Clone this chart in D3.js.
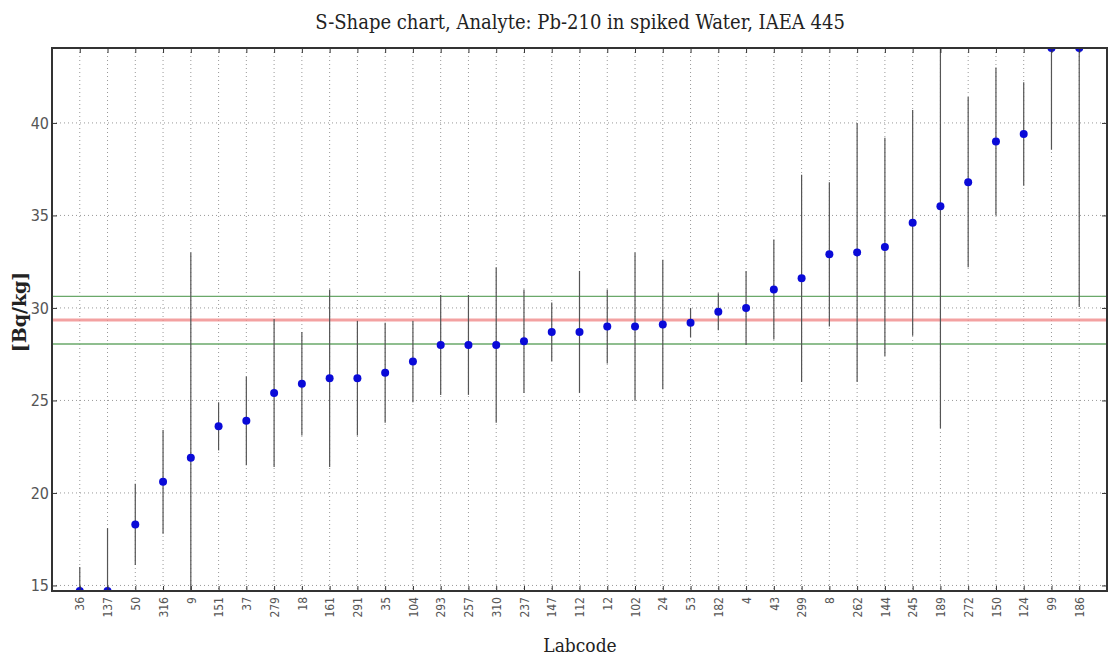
<!DOCTYPE html>
<html>
<head>
<meta charset="utf-8">
<script src="https://cdn.jsdelivr.net/npm/d3@7"></script>
<style>
  body { margin: 0; background: #fff; }
  .title, .xlabel { font-family: "DejaVu Serif", serif; font-stretch: condensed; fill: #222; }
  .ylabel { font-family: "DejaVu Serif", serif; font-weight: bold; fill: #222; }
  .tick text { font-family: "DejaVu Sans", sans-serif; font-stretch: condensed; fill: #555; }
</style>
</head>
<body>
<div id="chart"></div>
<script>
"use strict";

// labcodes, sorted by reported value
var labcodes = ["36","137","50","316","9","151","37","279","18","161","291","35","104",
                "293","257","310","237","147","112","12","102","24","53","182","4","43",
                "299","8","262","144","245","189","272","150","124","99","186"];

var values = [14.7, 14.7, 18.3, 20.6, 21.9, 23.6, 23.9, 25.4, 25.9, 26.2, 26.2, 26.5, 27.1,
              28.0, 28.0, 28.0, 28.2, 28.7, 28.7, 29.0, 29.0, 29.1, 29.2, 29.8, 30.0, 31.0,
              31.6, 32.9, 33.0, 33.3, 34.6, 35.5, 36.8, 39.0, 39.4, 44.05, 44.05];

var uncertainties = [1.3, 3.4, 2.2, 2.8, 11.1, 1.3, 2.4, 4.0, 2.8, 4.8, 3.1, 2.7, 2.2,
                     2.7, 2.7, 4.2, 2.8, 1.6, 3.3, 2.0, 4.0, 3.5, 0.8, 1.0, 2.0, 2.7,
                     5.6, 3.9, 7.0, 5.9, 6.1, 12.0, 4.6, 4.0, 2.8, 5.5, 14.0];

var targetValue = 29.35;
var limitValues = [28.05, 30.63];

var yTicks = [15, 20, 25, 30, 35, 40];

var W = 1111, H = 659;
var margin = {top: 48, right: 4, bottom: 68, left: 52},
    width = W - margin.left - margin.right,
    height = H - margin.top - margin.bottom;

var data = labcodes.map(function(c, i){
  return {code: c, value: values[i], unc: uncertainties[i], idx: i + 1};
});

var x = d3.scaleLinear()
          .domain([0, labcodes.length + 1])
          .range([0, width]);

var y = d3.scaleLinear()
          .domain([d3.min(values), d3.max(values)])
          .range([height, 0]);

var svg = d3.select("#chart")
            .append("svg")
            .attr("width", W)
            .attr("height", H);

svg.append("text")
   .attr("class", "title")
   .attr("x", 580)
   .attr("y", 29)
   .attr("text-anchor", "middle")
   .attr("font-size", 20)
   .text("S-Shape chart, Analyte: Pb-210 in spiked Water, IAEA 445");

var g = svg.append("g")
           .attr("transform", "translate(" + margin.left + "," + margin.top + ")");

g.append("clipPath")
 .attr("id", "plotclip")
 .append("rect")
 .attr("width", width)
 .attr("height", height);

// dotted grid
g.append("g").selectAll("line")
 .data(data)
 .enter().append("line")
 .attr("x1", function(d){ return x(d.idx); })
 .attr("x2", function(d){ return x(d.idx); })
 .attr("y1", 0).attr("y2", height)
 .attr("stroke", "#999")
 .attr("stroke-width", 1)
 .attr("stroke-dasharray", "1,3");

g.append("g").selectAll("line")
 .data(yTicks)
 .enter().append("line")
 .attr("x1", 0).attr("x2", width)
 .attr("y1", function(d){ return y(d); })
 .attr("y2", function(d){ return y(d); })
 .attr("stroke", "#999")
 .attr("stroke-width", 1)
 .attr("stroke-dasharray", "1,3");

// reference lines
g.append("g").selectAll("line")
 .data(limitValues)
 .enter().append("line")
 .attr("x1", 0).attr("x2", width)
 .attr("y1", function(d){ return y(d); })
 .attr("y2", function(d){ return y(d); })
 .attr("stroke", "#6aa86a")
 .attr("stroke-width", 1.3);

g.append("line")
 .attr("x1", 0).attr("x2", width)
 .attr("y1", y(targetValue)).attr("y2", y(targetValue))
 .attr("stroke", "#f08a8a")
 .attr("stroke-opacity", 0.8)
 .attr("stroke-width", 3);

var plot = g.append("g").attr("clip-path", "url(#plotclip)");

// error bars
plot.selectAll("line.err")
    .data(data)
    .enter().append("line")
    .attr("class", "err")
    .attr("x1", function(d){ return x(d.idx); })
    .attr("x2", function(d){ return x(d.idx); })
    .attr("y1", function(d){ return y(d.value - d.unc); })
    .attr("y2", function(d){ return y(d.value + d.unc); })
    .attr("stroke", "#555")
    .attr("stroke-width", 1.2);

plot.selectAll("circle")
    .data(data)
    .enter().append("circle")
    .attr("cx", function(d){ return x(d.idx); })
    .attr("cy", function(d){ return y(d.value); })
    .attr("r", 4)
    .attr("fill", "#0a0ad8");

// axes
var xAxis = d3.axisBottom(x)
              .tickValues(data.map(function(d){ return d.idx; }))
              .tickFormat(function(d){ return labcodes[d - 1]; })
              .tickSizeInner(-5).tickSizeOuter(0).tickPadding(6);

var gx = g.append("g")
          .attr("transform", "translate(0," + height + ")")
          .call(xAxis);
gx.select(".domain").remove();
gx.selectAll(".tick line").attr("stroke", "#333");
gx.selectAll(".tick text")
  .attr("font-size", 12)
  .attr("transform", "rotate(-90)")
  .attr("text-anchor", "end")
  .attr("x", -6)
  .attr("y", 0)
  .attr("dy", "0.35em");

g.append("g")
 .call(d3.axisTop(x).tickValues(data.map(function(d){ return d.idx; }))
         .tickFormat("").tickSizeInner(-5).tickSizeOuter(0))
 .call(function(s){ s.select(".domain").remove(); s.selectAll("line").attr("stroke", "#333"); });

var gy = g.append("g")
          .call(d3.axisLeft(y).tickValues(yTicks).tickSizeInner(-5).tickSizeOuter(0).tickPadding(3));
gy.select(".domain").remove();
gy.selectAll(".tick line").attr("stroke", "#333");
gy.selectAll(".tick text").attr("font-size", 16);

g.append("g")
 .attr("transform", "translate(" + width + ",0)")
 .call(d3.axisRight(y).tickValues(yTicks).tickFormat("").tickSizeInner(-5).tickSizeOuter(0))
 .call(function(s){ s.select(".domain").remove(); s.selectAll("line").attr("stroke", "#333"); });

// frame
g.append("rect")
 .attr("width", width)
 .attr("height", height)
 .attr("fill", "none")
 .attr("stroke", "#333")
 .attr("stroke-width", 2);

svg.append("text")
   .attr("class", "xlabel")
   .attr("x", 580)
   .attr("y", 652)
   .attr("text-anchor", "middle")
   .attr("font-size", 19)
   .text("Labcode");

svg.append("text")
   .attr("class", "ylabel")
   .attr("transform", "translate(26,312) rotate(-90)")
   .attr("text-anchor", "middle")
   .attr("font-size", 19)
   .text("[Bq/kg]");
</script>
</body>
</html>
